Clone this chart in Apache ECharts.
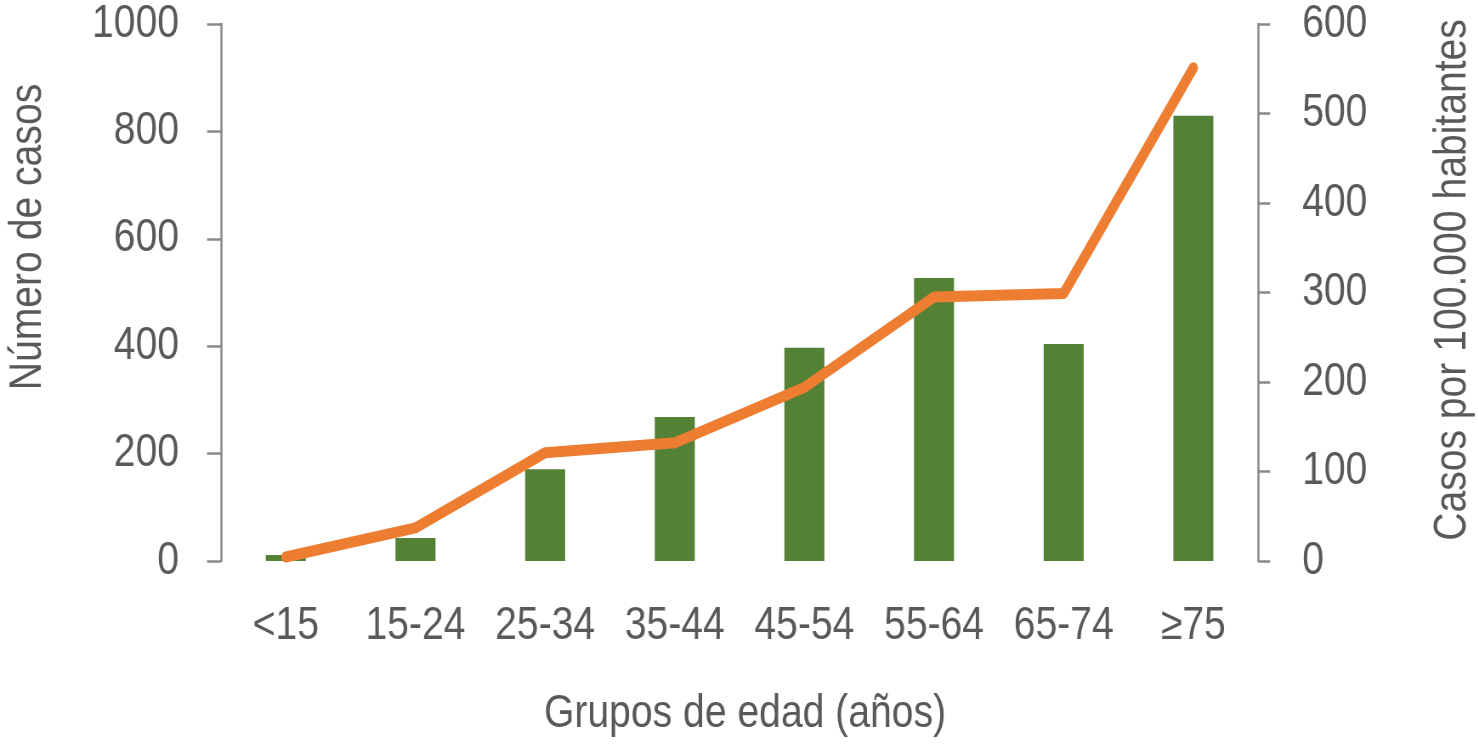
<!DOCTYPE html>
<html><head><meta charset="utf-8">
<script src="https://cdn.jsdelivr.net/npm/echarts@6/dist/echarts.min.js"></script>
<style>html,body{margin:0;padding:0;background:#fff;overflow:hidden;width:1478px;height:745px}
#c{width:1739px;height:745px;transform:scaleX(0.85);transform-origin:0 0}</style>
</head><body><div id="c"></div>
<script>
const categories = ['<15','15-24','25-34','35-44','45-54','55-64','65-74','≥75'];
const casos = [11, 43, 171, 268, 397, 527, 404, 829];
const tasa = [4.5, 37, 121, 132, 194, 295, 299, 551];
const leftTicks = [0, 200, 400, 600, 800, 1000];
const rightTicks = [0, 100, 200, 300, 400, 500, 600];

const S = 0.85; // horizontal condensing to mimic a narrow typeface
const X = v => v / S;
const FONT = '"Liberation Sans", Arial, sans-serif';
const TXT = '#595959';
const AX = '#898989';
const chart = echarts.init(document.getElementById('c'));
chart.setOption({
  animation: false,
  grid: {left: X(221), right: X(220), top: 24, bottom: 184},
  xAxis: {
    type: 'category', data: categories,
    axisLine: {show: false}, axisTick: {show: false},
    axisLabel: {color: TXT, fontFamily: FONT, fontSize: 46, margin: 42, interval: 0}
  },
  yAxis: [{
    type: 'value', min: leftTicks[0], max: leftTicks[leftTicks.length-1], interval: 200,
    splitLine: {show: false},
    axisLine: {show: true, lineStyle: {color: AX, width: 2.5}},
    axisTick: {show: true, length: X(14), lineStyle: {color: AX, width: 2.5}},
    axisLabel: {color: TXT, fontFamily: FONT, fontSize: 46, margin: X(42), formatter: v => String(v)}
  }, {
    type: 'value', min: rightTicks[0], max: rightTicks[rightTicks.length-1], interval: 100,
    splitLine: {show: false},
    axisLine: {show: true, lineStyle: {color: AX, width: 2.5}},
    axisTick: {show: true, length: X(12), lineStyle: {color: AX, width: 2.5}},
    axisLabel: {color: TXT, fontFamily: FONT, fontSize: 46, margin: X(44), formatter: v => String(v)}
  }],
  graphic: [
    {type: 'text', x: X(745), y: 714, style: {text: 'Grupos de edad (años)', fill: TXT, font: '46px ' + FONT, align: 'center', verticalAlign: 'middle'}},
    {type: 'text', x: X(28), y: 237, rotation: Math.PI/2, scaleX: S, scaleY: 1/S, style: {text: 'Número de casos', fill: TXT, font: '46px ' + FONT, align: 'center', verticalAlign: 'middle'}},
    {type: 'text', x: X(1453), y: 280, rotation: Math.PI/2, scaleX: S, scaleY: 1/S, style: {text: 'Casos por 100.000 habitantes', fill: TXT, font: '46px ' + FONT, align: 'center', verticalAlign: 'middle'}}
  ],
  series: [{
    type: 'bar', data: casos, yAxisIndex: 0, barWidth: X(40),
    itemStyle: {color: '#538135'}
  }, {
    type: 'line', data: tasa, yAxisIndex: 1, symbol: 'none',
    lineStyle: {color: '#ED7D31', width: 11, cap: 'round', join: 'round'}
  }]
});
</script></body></html>
